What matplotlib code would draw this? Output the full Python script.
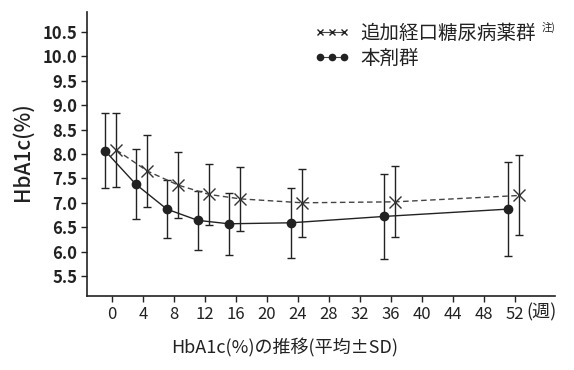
import matplotlib
matplotlib.use("Agg")
import matplotlib.pyplot as plt
from matplotlib.lines import Line2D
import numpy as np

plt.rcParams['font.family'] = ['Noto Sans CJK JP', 'DejaVu Sans']

weeks = [0, 4, 8, 12, 16, 24, 36, 52]

# 本剤群
main_mean = [8.07, 7.38, 6.87, 6.64, 6.57, 6.59, 6.72, 6.87]
main_sd = [0.77, 0.72, 0.60, 0.61, 0.63, 0.72, 0.87, 0.96]

# 追加経口糖尿病薬群
add_mean = [8.08, 7.65, 7.36, 7.17, 7.08, 7.00, 7.02, 7.15]
add_sd = [0.76, 0.74, 0.68, 0.63, 0.65, 0.70, 0.73, 0.82]

xticks = [0, 4, 8, 12, 16, 20, 24, 28, 32, 36, 40, 44, 48, 52]
yticks = [5.5, 6.0, 6.5, 7.0, 7.5, 8.0, 8.5, 9.0, 9.5, 10.0, 10.5]

fig = plt.figure(figsize=(5.74, 3.70), dpi=100)
ax = fig.add_axes([0.1516, 0.2, 0.8154, 0.7676])

w = np.array(weeks, dtype=float)

ax.errorbar(w + 0.6, add_mean, yerr=add_sd, fmt='none', ecolor='#222222',
            elinewidth=1.0, capsize=3, capthick=1.0, zorder=2)
ax.errorbar(w - 0.9, main_mean, yerr=main_sd, fmt='none', ecolor='#222222',
            elinewidth=1.0, capsize=3, capthick=1.0, zorder=2)

ax.plot(w + 0.6, add_mean, linestyle=(0, (4, 2.5)), color='#444444', lw=1.0,
        marker='x', markersize=9, mew=1.0, mec='#333333', zorder=3)
ax.plot(w - 0.9, main_mean, linestyle='-', color='#222222', lw=1.0,
        marker='o', markersize=6, mfc='#222222', mec='#222222', zorder=3)

ax.set_xlim(-3.2, 57.2)
ax.set_ylim(5.09, 10.91)
ax.set_xticks(xticks)
ax.set_xticklabels([str(x) for x in xticks], fontsize=12)
ax.set_yticks(yticks)
ax.set_yticklabels([f"{y:.1f}" for y in yticks], fontsize=12, fontweight='bold')

for s in ['top', 'right']:
    ax.spines[s].set_visible(False)
for s in ['left', 'bottom']:
    ax.spines[s].set_linewidth(1.2)
    ax.spines[s].set_color('#222222')
ax.tick_params(direction='out', length=4, width=1.0, colors='#222222', pad=3)

fig.text(0.943, 0.156, "(週)", fontsize=13, ha='center', va='center', color='#222222')

fig.text(0.040, 0.589, "HbA1c(%)", rotation=90, fontsize=15, fontweight='medium',
         ha='center', va='center', color='#222222')
fig.text(0.496, 0.059, "HbA1c(%)の推移(平均±SD)", fontsize=13, ha='center',
         va='center', color='#222222')

# legend
h1 = Line2D([], [], linestyle='-', color='#444444', lw=0.8, marker='x',
            markersize=5, mew=1.0, mec='#222222')
h2 = Line2D([], [], linestyle='-', color='#444444', lw=0.8, marker='o',
            markersize=4.5, mfc='#222222', mec='#222222')
leg = ax.legend([h1, h2], ["追加経口糖尿病薬群", "本剤群"], numpoints=3,
                loc='upper left', bbox_to_anchor=(0.468, 0.99), frameon=False,
                fontsize=14, handlelength=1.85, handletextpad=0.55,
                labelspacing=0.2, borderaxespad=0)
for t in leg.get_texts():
    t.set_color('#222222')
fig.text(0.944, 0.925, "注)", fontsize=7.5, ha='left', va='center', color='#222222')

fig.savefig("out.png", dpi=100)
